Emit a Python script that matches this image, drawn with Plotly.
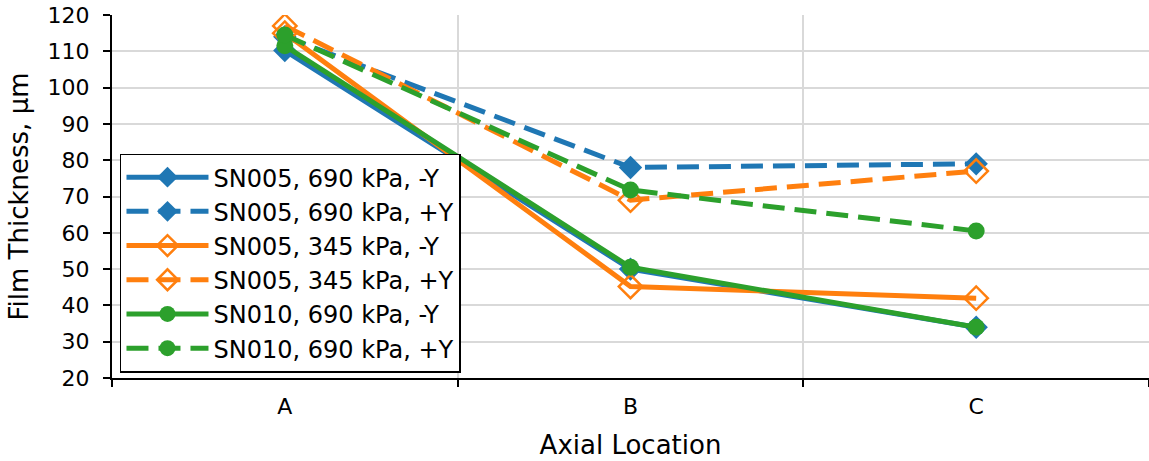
import plotly.graph_objects as go

categories = ["A", "B", "C"]
series_names = [
    "SN005, 690 kPa, -Y",
    "SN005, 690 kPa, +Y",
    "SN005, 345 kPa, -Y",
    "SN005, 345 kPa, +Y",
    "SN010, 690 kPa, -Y",
    "SN010, 690 kPa, +Y",
]
sn005_690_neg = [110.2, 50.0, 34.0]
sn005_690_pos = [114.0, 78.0, 79.0]
sn005_345_neg = [115.0, 45.2, 42.0]
sn005_345_pos = [117.0, 69.0, 77.0]
sn010_690_neg = [111.5, 50.5, 34.0]
sn010_690_pos = [114.5, 71.8, 60.5]

values = [sn005_690_neg, sn005_690_pos, sn005_345_neg, sn005_345_pos, sn010_690_neg, sn010_690_pos]
colors = ["#1f77b4", "#1f77b4", "#ff7f0e", "#ff7f0e", "#2ca02c", "#2ca02c"]
dashes = ["solid", "22px,10px", "solid", "22px,10px", "solid", "22px,10px"]
symbols = ["diamond", "diamond", "diamond-open", "diamond-open", "circle", "circle"]

fig = go.Figure()
for name, vals, c, d, s in zip(series_names, values, colors, dashes, symbols):
    fig.add_trace(go.Scatter(
        x=categories, y=vals, name=name, mode="lines+markers",
        line=dict(color=c, width=5, dash=d),
        marker=dict(symbol=s, size=18 if "diamond" in s else 17, color=c,
                    line=dict(color=c, width=2.5 if s == "diamond-open" else 0)),
    ))

font = "DejaVu Sans, sans-serif"
fig.update_layout(
    width=1149, height=461,
    margin=dict(l=112, r=0, t=15, b=83, autoexpand=False),
    plot_bgcolor="white", paper_bgcolor="white",
    font=dict(family=font, size=22, color="black"),
    legend=dict(x=0.0077, y=0.015, xanchor="left", yanchor="bottom",
                bordercolor="black", borderwidth=1.5, bgcolor="white",
                font=dict(size=24), itemwidth=82),
    showlegend=True,
)
fig.update_xaxes(
    type="category", range=[-0.5, 2.5], tickson="boundaries",
    ticks="outside", ticklen=7, tickwidth=1.5, tickcolor="black",
    ticklabelstandoff=8,
    showgrid=True, gridcolor="#d9d9d9", gridwidth=1.5,
    showline=True, linecolor="black", linewidth=2, automargin=False,
    title=dict(text="Axial Location", font=dict(size=26), standoff=17),
    tickfont=dict(size=22),
)
fig.update_yaxes(
    range=[20, 120], dtick=10, ticks="outside", ticklen=7, tickwidth=1.5,
    tickcolor="black", ticklabelstandoff=9,
    showgrid=True, gridcolor="#d9d9d9", gridwidth=1.5,
    showline=True, linecolor="black", linewidth=2, zeroline=False, automargin=False,
    title=dict(text="Film Thickness, µm", font=dict(size=26), standoff=11),
    tickfont=dict(size=22),
)
fig.write_html("out.html", config={"displayModeBar": False},
               post_script="document.body.style.margin='0';")
